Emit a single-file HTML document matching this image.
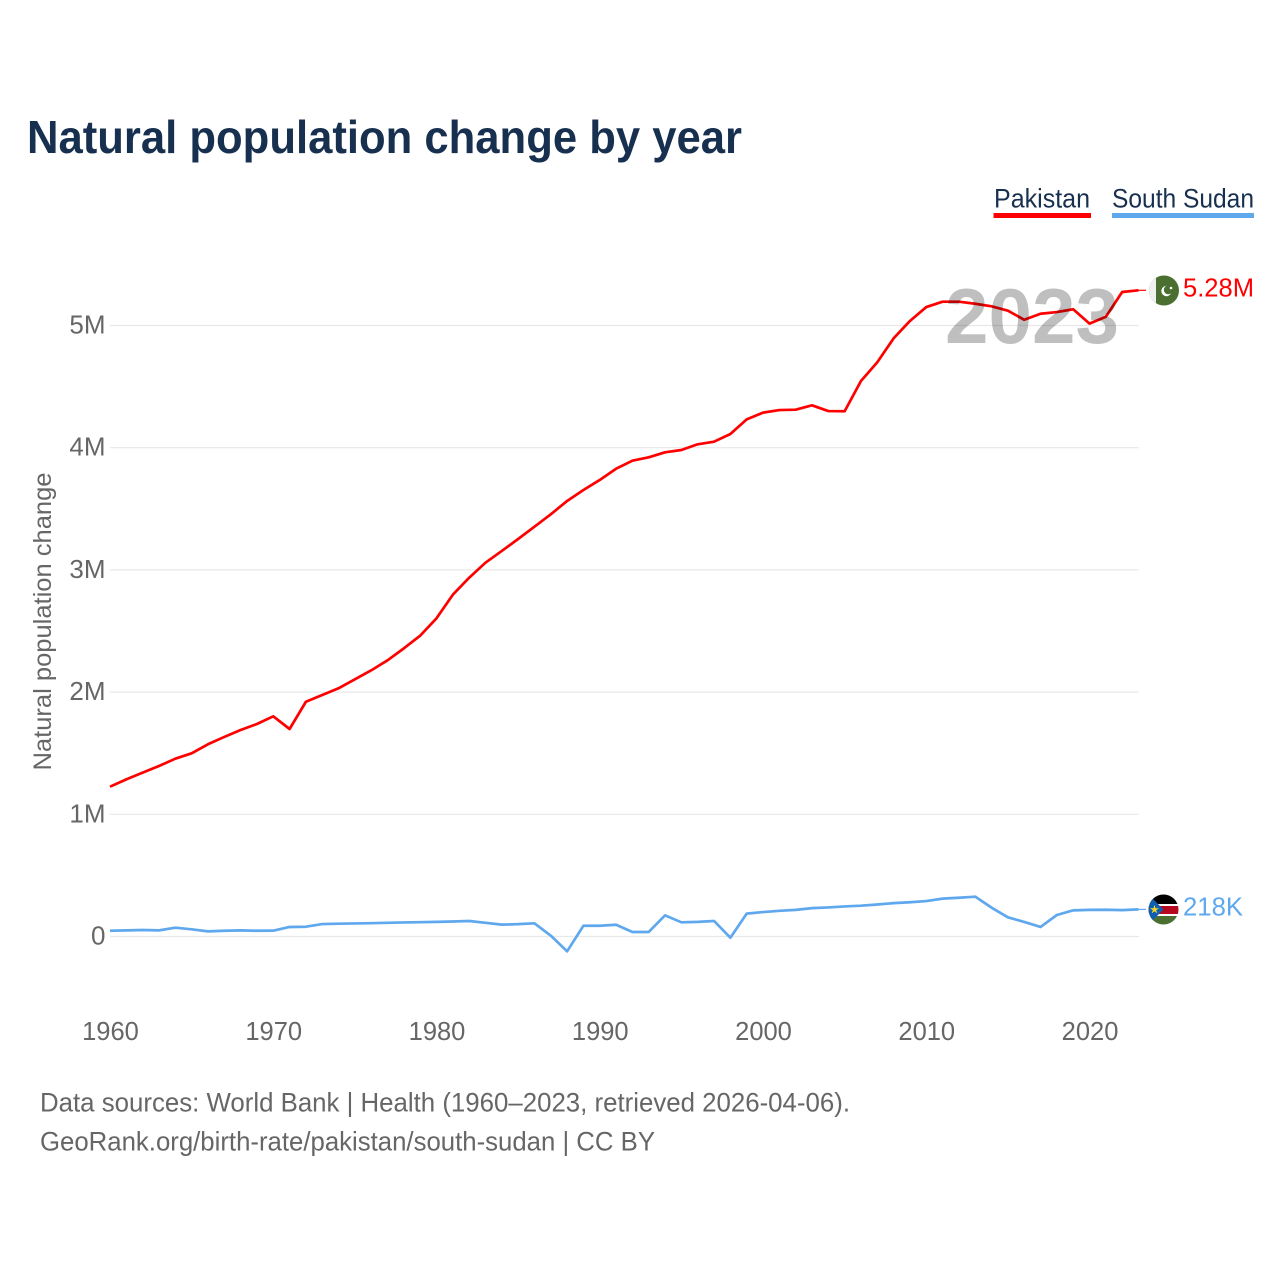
<!DOCTYPE html>
<html lang="en">
<head>
<meta charset="utf-8">
<title>Natural population change by year</title>
<style>
html,body{margin:0;padding:0;background:#fff;}
svg{display:block;font-family:"Liberation Sans",sans-serif;}
</style>
</head>
<body>
<svg id="chart" xmlns="http://www.w3.org/2000/svg" width="1280" height="1280" viewBox="0 0 1280 1280">
  <defs>
    <clipPath id="flag-clip-pk"><circle cx="1164" cy="290.5" r="15"/></clipPath>
    <clipPath id="flag-clip-ss"><circle cx="1163.5" cy="909.5" r="15"/></clipPath>
  </defs>
  <rect x="0" y="0" width="1280" height="1280" fill="#ffffff"/>
  <text x="27" y="153" font-size="46" font-weight="700" fill="#18304f" textLength="715" lengthAdjust="spacingAndGlyphs">Natural population change by year</text>

  <g>
    <text x="994" y="207.5" font-size="27" fill="#18304f" textLength="96" lengthAdjust="spacingAndGlyphs">Pakistan</text>
    <rect x="993.5" y="213" width="97.5" height="5" fill="#ff0000"/>
  </g>
  <g>
    <text x="1112" y="207.5" font-size="27" fill="#18304f" textLength="142" lengthAdjust="spacingAndGlyphs">South Sudan</text>
    <rect x="1112" y="213" width="142" height="5" fill="#5fa8ee"/>
  </g>

  <g id="grid"></g>
  <g id="y-ticks"></g>
  <g id="x-ticks"></g>
  <text transform="translate(51 770.5) rotate(-90)" font-size="25" fill="#666666" textLength="298" lengthAdjust="spacingAndGlyphs">Natural population change</text>
  <g id="series"></g>
  <text x="945" y="343" font-size="78" font-weight="700" fill="#000000" fill-opacity="0.25" textLength="174" lengthAdjust="spacingAndGlyphs">2023</text>

  <g clip-path="url(#flag-clip-pk)">
    <rect x="1148" y="275" width="32" height="32" fill="#4b6f30"/>
    <rect x="1148" y="275" width="8" height="32" fill="#f0f0f0"/>
    <circle cx="1166.5" cy="291" r="5.2" fill="#ffffff"/>
    <circle cx="1168.3" cy="289.8" r="4.5" fill="#4b6f30"/>
    <circle cx="1171" cy="288" r="1.3" fill="#ffffff"/>
  </g>
  <g clip-path="url(#flag-clip-ss)">
    <rect x="1148" y="894" width="32" height="10" fill="#000000"/>
    <rect x="1148" y="904" width="32" height="2" fill="#ffffff"/>
    <rect x="1148" y="906" width="32" height="8" fill="#b5071d"/>
    <rect x="1148" y="914" width="32" height="2" fill="#ffffff"/>
    <rect x="1148" y="916" width="32" height="10" fill="#4b6f30"/>
    <polygon points="1148,894 1163.5,909.5 1148,925" fill="#0f5fb0"/>
    <polygon points="1154.5,905 1155.6,908.2 1159,908.2 1156.2,910.2 1157.3,913.4 1154.5,911.4 1151.7,913.4 1152.8,910.2 1150,908.2 1153.4,908.2" fill="#f5d327"/>
  </g>

  <g>
    <text x="40" y="1111.5" font-size="27" fill="#666666" textLength="810" lengthAdjust="spacingAndGlyphs">Data sources: World Bank | Health (1960–2023, retrieved 2026-04-06).</text>
    <text x="40" y="1150.5" font-size="27" fill="#666666" textLength="615" lengthAdjust="spacingAndGlyphs">GeoRank.org/birth-rate/pakistan/south-sudan | CC BY</text>
  </g>
</svg>
<script>
const firstYear = 1960;
const pakistanValues = [1.226,1.286,1.341,1.395,1.455,1.499,1.573,1.633,1.690,1.739,1.802,1.698,1.921,1.976,2.031,2.105,2.178,2.260,2.358,2.462,2.604,2.797,2.936,3.059,3.155,3.253,3.354,3.455,3.564,3.654,3.736,3.828,3.894,3.921,3.962,3.981,4.028,4.049,4.112,4.232,4.287,4.308,4.311,4.347,4.300,4.298,4.546,4.699,4.895,5.037,5.151,5.195,5.195,5.178,5.157,5.121,5.047,5.096,5.110,5.133,5.015,5.072,5.274,5.288];
const southSudanValues = [0.047,0.050,0.053,0.050,0.072,0.059,0.042,0.047,0.050,0.047,0.048,0.078,0.080,0.102,0.105,0.107,0.109,0.112,0.115,0.117,0.120,0.123,0.127,0.112,0.097,0.101,0.108,0.007,-0.121,0.088,0.088,0.096,0.037,0.037,0.173,0.116,0.120,0.127,-0.010,0.187,0.200,0.210,0.218,0.232,0.238,0.246,0.252,0.262,0.273,0.280,0.290,0.310,0.317,0.326,0.236,0.157,0.119,0.078,0.176,0.214,0.218,0.219,0.216,0.222];
const yTickValues = [0,1,2,3,4,5];
const yTickLabels = ['0','1M','2M','3M','4M','5M'];
const xTickYears = [1960,1970,1980,1990,2000,2010,2020];
const pakistanLabel = '5.28M';
const southSudanLabel = '218K';

const NS = 'http://www.w3.org/2000/svg';
const xScale = function (year) { return 110 + (year - 1960) * (1028.5 / 63); };
const yScale = function (value) { return 936.5 - value * 122.2; };
function make(parent, tag, attrs, text) {
  const el = document.createElementNS(NS, tag);
  Object.keys(attrs).forEach(function (k) { el.setAttribute(k, attrs[k]); });
  if (text !== undefined) el.textContent = text;
  parent.appendChild(el);
  return el;
}
const gridGroup = document.getElementById('grid');
const yGroup = document.getElementById('y-ticks');
const xGroup = document.getElementById('x-ticks');
const seriesGroup = document.getElementById('series');
const root = document.getElementById('chart');

yTickValues.forEach(function (v, i) {
  const line = make(gridGroup, 'line', {x1: 110, x2: 1139, y1: yScale(v), y2: yScale(v), stroke: '#e8e8e8', 'stroke-width': 1.2});
  
  
  const label = make(yGroup, 'text', {x: 105.5, y: yScale(v) + 8, 'text-anchor': 'end', 'font-size': 26, fill: '#666666'}, yTickLabels[i]);
  
  
});
xTickYears.forEach(function (year) {
  const label = make(xGroup, 'text', {x: xScale(year) + 0.5, y: 1040, 'text-anchor': 'middle', 'font-size': 25.5, fill: '#666666'}, String(year));
  
  
});
function seriesPath(values) {
  return values.map(function (v, i) {
    return (i ? 'L' : 'M') + xScale(firstYear + i).toFixed(2) + ' ' + yScale(v).toFixed(2);
  }).join(' ');
}
const lastYear = firstYear + pakistanValues.length - 1;

const southLine = make(seriesGroup, 'path', {d: seriesPath(southSudanValues), fill: 'none', stroke: '#5fa8ee', 'stroke-width': 2.7, 'stroke-linejoin': 'round'});


const southLast = southSudanValues[southSudanValues.length - 1];
const southTail = make(seriesGroup, 'line', {x1: xScale(lastYear), x2: 1146, y1: yScale(southLast), y2: yScale(southLast), stroke: '#5fa8ee', 'stroke-width': 1.2});



const pakLine = make(seriesGroup, 'path', {d: seriesPath(pakistanValues), fill: 'none', stroke: '#ff0000', 'stroke-width': 2.7, 'stroke-linejoin': 'round'});


const pakLast = pakistanValues[pakistanValues.length - 1];
const pakTail = make(seriesGroup, 'line', {x1: xScale(lastYear), x2: 1146, y1: yScale(pakLast), y2: yScale(pakLast), stroke: '#ff0000', 'stroke-width': 1.2});



const pakEnd = make(root, 'text', {x: 1183, y: yScale(pakLast) + 6, 'font-size': 25.5, fill: '#ff0000', textLength: 71, lengthAdjust: 'spacingAndGlyphs'}, pakistanLabel);


const southEnd = make(root, 'text', {x: 1183, y: yScale(southLast) + 6, 'font-size': 25.5, fill: '#5fa8ee', textLength: 60, lengthAdjust: 'spacingAndGlyphs'}, southSudanLabel);


</script>
</body>
</html>
